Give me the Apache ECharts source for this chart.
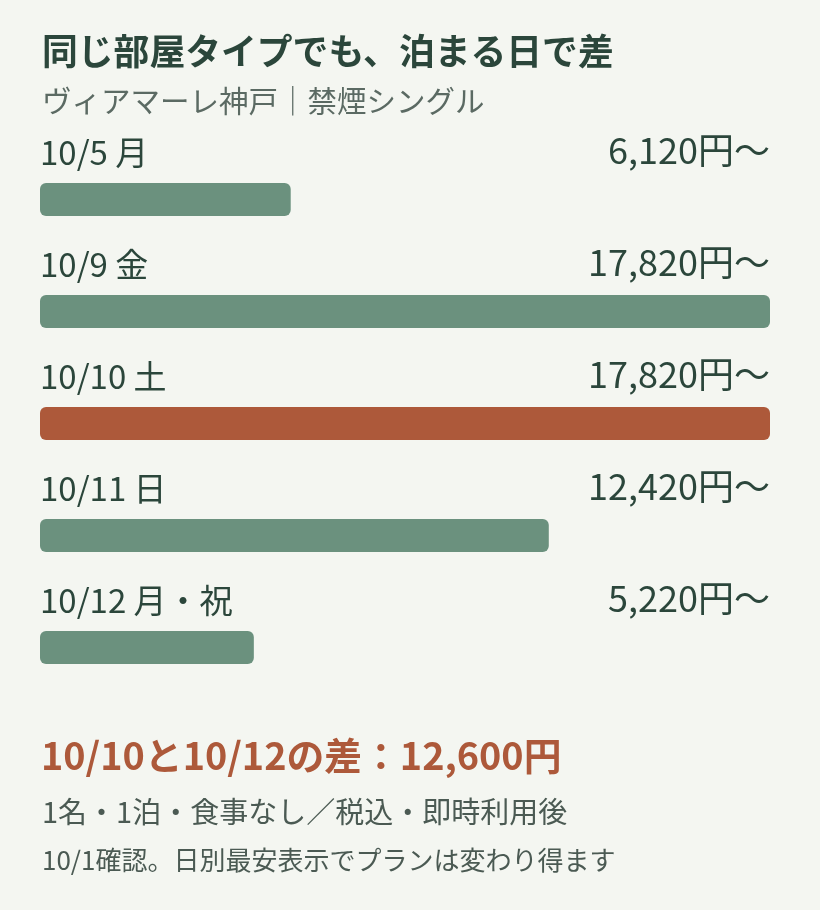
<!DOCTYPE html>
<html><head><meta charset="utf-8">
<script src="https://cdn.jsdelivr.net/npm/echarts@6/dist/echarts.min.js"></script>
<style>html,body{margin:0;padding:0;background:#f4f6f1;}#c{width:820px;height:910px;}</style>
</head><body><div id="c"></div>
<script>
const categories = ['10/5 月', '10/9 金', '10/10 土', '10/11 日', '10/12 月・祝'];
const prices = [6120, 17820, 17820, 12420, 5220];
const highlightIndex = 2;
const titleText = '同じ部屋タイプでも、泊まる日で差';
const subtitleText = 'ヴィアマーレ神戸｜禁煙シングル';
const diffText = '10/10と10/12の差：12,600円';
const note1 = '1名・1泊・食事なし／税込・即時利用後';
const note2 = '10/1確認。日別最安表示でプランは変わり得ます';

const FONT = '"Noto Sans CJK JP", sans-serif';
const maxPrice = Math.max(...prices);
const fmt = v => v.toLocaleString('en-US') + '円〜';

const chart = echarts.init(document.getElementById('c'), null, {renderer: 'canvas'});
chart.setOption({
  backgroundColor: '#f4f6f1',
  animation: false,
  title: [
    {text: titleText, left: 37, top: 28, textStyle: {fontFamily: FONT, fontSize: 35.8, fontWeight: 'bold', color: '#2b463b'}},
    {text: subtitleText, left: 37, top: 81, textStyle: {fontFamily: FONT, fontSize: 29.5, fontWeight: 'normal', color: '#5b6a63'}},
    {text: diffText, left: 36, top: 732, textStyle: {fontFamily: FONT, fontSize: 37.8, fontWeight: 'bold', color: '#ad593a'}},
    {text: note1, left: 37, top: 792, textStyle: {fontFamily: FONT, fontSize: 29, fontWeight: 'normal', color: '#4b5a53'}},
    {text: note2, left: 37, top: 842, textStyle: {fontFamily: FONT, fontSize: 26, fontWeight: 'normal', color: '#4b5a53'}}
  ],
  grid: {left: 40, right: 50, top: 143.5, height: 560, containLabel: false},
  xAxis: {type: 'value', min: 0, max: maxPrice, show: false},
  yAxis: {type: 'category', data: categories, inverse: true, show: false},
  series: [
    {
      type: 'bar', barWidth: 33, barGap: '-100%', silent: true,
      data: prices.map(() => maxPrice),
      itemStyle: {color: 'rgba(0,0,0,0)'},
      label: {show: true, position: [0, -31], align: 'left', verticalAlign: 'middle',
        formatter: p => categories[p.dataIndex],
        fontFamily: FONT, fontSize: 33, color: '#2b463b'}
    },
    {
      type: 'bar', barWidth: 33, barGap: '-100%', silent: true,
      data: prices.map(() => maxPrice),
      itemStyle: {color: 'rgba(0,0,0,0)'},
      label: {show: true, position: ['100%', -33], align: 'right', verticalAlign: 'middle',
        formatter: p => fmt(prices[p.dataIndex]),
        fontFamily: FONT, fontSize: 36, color: '#2b463b'}
    },
    {
      type: 'bar', barWidth: 33, barGap: '-100%',
      data: prices.map((v, i) => ({value: v, itemStyle: {color: i === highlightIndex ? '#ad593a' : '#6b917e'}})),
      itemStyle: {borderRadius: 6}
    }
  ]
});
</script></body></html>
